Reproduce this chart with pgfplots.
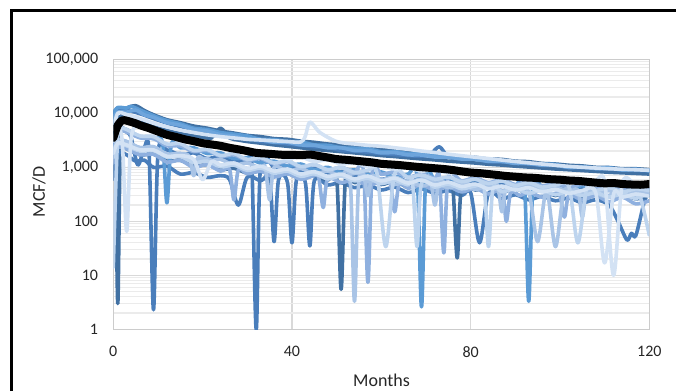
\documentclass[border=0pt]{standalone}
\usepackage{pgfplots}
\pgfplotsset{compat=1.18}
\usepackage{fontspec}
\setmainfont{Carlito}
\definecolor{c1}{RGB}{65,113,163}
\definecolor{c2}{RGB}{74,126,187}
\definecolor{c3}{RGB}{91,155,213}
\definecolor{c4}{RGB}{110,165,220}
\definecolor{c5}{RGB}{143,176,223}
\definecolor{c6}{RGB}{169,196,230}
\definecolor{c7}{RGB}{189,212,238}
\definecolor{c8}{RGB}{211,226,244}
\begin{document}
\begin{tikzpicture}[x=1pt,y=1pt]
\useasboundingbox (0,0) rectangle (676,391);
\begin{axis}[
  at={(113.3pt,61.7pt)}, anchor=south west,
  scale only axis, width=536pt, height=270pt,
  ymode=log, xmin=0, xmax=120, ymin=1, ymax=100000,
  xtick={0,40,80,120}, xticklabels={0,40,80,120},
  ytick={1,10,100,1000,10000,100000},
  yticklabels={1,10,100,{1,000},{10,000},{100,000}},
  minor ytick={2,3,4,5,6,7,8,9,20,30,40,50,60,70,80,90,200,300,400,500,600,700,800,900,2000,3000,4000,5000,6000,7000,8000,9000,20000,30000,40000,50000,60000,70000,80000,90000},
  xmajorgrids, ymajorgrids, yminorgrids,
  major grid style={black!15, line width=1.3pt},
  minor grid style={black!8, line width=1.3pt},
  axis line style={black!20, line width=1.3pt},
  major tick length=0pt, minor tick length=0pt,
  /pgf/number format/assume math mode=true,
  ticklabel style={font=\fontsize{16}{19}\selectfont, text=black!85},
  yticklabel style={anchor=east, inner sep=0pt, xshift=-15pt},
  xticklabel style={anchor=north, inner sep=0pt, yshift=-17pt},
  every axis plot/.append style={smooth, line width=3.6pt, line join=round, line cap=round},
  clip=true,
]
% A
\addplot[c1] coordinates {(0,11000)(0.5,1500)(1,3)(1.5,1500)(2,10500)(3,12500)(5,13800)(7,11200)(9,9400)(12,7600)(15,6700)(18,5800)(21,5300)(24,4700)(27,4300)(30,3900)(33,3700)(36,3400)(39,3300)(42,3050)(45,2900)(48,2700)(51,2600)(54,2400)(57,2300)(60,2150)(63,2100)(66,1950)(69,1880)(72,1750)(75,1700)(78,1580)(81,1530)(84,1420)(87,1400)(90,1300)(93,1270)(96,1180)(99,1150)(102,1090)(105,1060)(108,1000)(111,990)(114,940)(117,940)(120,900)};
% N
\addplot[c2] coordinates {(0,600)(1,1800)(3,1700)(5,1300)(7,1350)(9,1000)(12,1050)(15,750)(18,800)(21,650)(24,700)(26,600)(28,200)(30,660)(33,560)(35,620)(36,42)(37,590)(39,520)(40,40)(41,580)(43,520)(44,35)(45,560)(48,470)(51,520)(54,420)(57,470)(60,380)(63,430)(66,340)(69,400)(72,330)(75,370)(78,300)(80,340)(82,40)(84,330)(87,260)(90,310)(93,250)(96,290)(99,240)(102,270)(105,220)(108,250)(111,200)(113,100)(115,45)(116,60)(117,55)(119,250)(120,300)};
% R
\addplot[c1] coordinates {(0,1500)(1,2400)(3,2200)(6,1700)(9,1750)(12,1300)(15,1350)(18,1050)(21,1120)(24,900)(27,960)(30,780)(33,850)(36,700)(39,770)(42,620)(45,700)(48,580)(50,640)(51,5.5)(52,620)(54,520)(57,590)(60,480)(63,550)(66,430)(69,510)(72,410)(75,480)(76,460)(77,21)(78,460)(81,380)(84,430)(87,350)(90,400)(93,330)(96,380)(99,300)(102,360)(105,290)(108,340)(111,280)(114,320)(117,260)(120,300)};
% E
\addplot[c2] coordinates {(0,2500)(1,5000)(3,4500)(4,3500)(5.5,1100)(7,2400)(8,1900)(9,2.3)(10,1800)(12,2100)(15,1700)(18,1850)(21,1450)(24,1600)(27,1250)(30,1350)(31,1200)(32,1)(33,1150)(36,1000)(39,1050)(42,850)(45,950)(48,760)(51,830)(54,680)(57,750)(60,600)(63,680)(66,540)(69,620)(72,500)(75,570)(78,460)(81,520)(84,420)(87,480)(90,390)(93,450)(96,360)(99,420)(102,340)(105,400)(108,320)(111,380)(114,300)(117,360)(120,330)};
% H
\addplot[c1] coordinates {(0,6000)(1,8500)(3,8000)(6,6800)(9,5600)(12,4800)(15,4200)(18,3800)(21,3500)(22,3500)(24,5300)(26,3500)(28,3200)(30,3000)(33,2800)(36,2600)(39,2450)(42,2300)(45,2150)(48,2050)(51,1950)(54,1850)(57,1750)(60,1650)(63,1580)(66,1500)(69,1430)(72,1370)(75,1300)(78,1250)(81,1200)(84,1140)(87,1100)(90,1050)(93,1010)(96,970)(99,930)(102,900)(105,870)(108,840)(111,810)(114,790)(117,770)(120,750)};
% M
\addplot[c2] coordinates {(0,9500)(1,11800)(3,11500)(6,9800)(9,8000)(12,6600)(15,5700)(18,5000)(21,4500)(24,4000)(27,3650)(30,3500)(33,3000)(36,2900)(39,2700)(42,2550)(45,2400)(48,2350)(51,2050)(54,2000)(57,1900)(60,1800)(63,1720)(66,1650)(69,1600)(71,1750)(73,2400)(75,1550)(78,1450)(81,1420)(84,1280)(87,1260)(90,1200)(93,1150)(96,1100)(99,1100)(102,990)(105,990)(108,950)(111,930)(114,900)(117,880)(120,860)};
% D
\addplot[c3] coordinates {(0,10000)(1,12800)(3,12500)(4,13500)(6,11500)(9,9000)(12,7300)(15,6400)(18,5300)(21,5000)(24,4400)(27,4100)(30,3800)(33,3300)(36,3250)(39,3000)(42,2950)(45,2600)(48,2550)(51,2300)(54,2250)(57,2200)(60,1950)(63,1950)(66,1800)(69,1760)(72,1620)(75,1600)(78,1550)(81,1400)(84,1380)(87,1290)(90,1260)(93,1170)(96,1150)(99,1130)(102,1000)(105,1020)(108,960)(111,980)(114,890)(117,920)(120,860)};
% F
\addplot[c3] coordinates {(0,3500)(1,5500)(3,5000)(6,3700)(9,3400)(11,2900)(12,220)(13,2700)(15,2300)(18,2300)(21,1800)(24,1850)(27,1450)(30,1500)(33,1200)(36,1300)(39,1050)(42,1150)(45,900)(48,1000)(51,800)(54,900)(57,720)(60,820)(63,650)(66,750)(68,690)(69,2.6)(70,670)(72,580)(75,640)(78,520)(81,600)(84,480)(87,560)(90,450)(92,510)(93,3.3)(94,500)(96,430)(99,480)(102,400)(105,460)(108,380)(111,440)(114,360)(117,410)(120,390)};
% Q
\addplot[c4] coordinates {(0,8000)(1,10500)(3,10500)(5,11500)(7,9300)(9,8400)(12,6700)(15,6000)(18,5000)(21,4700)(24,4000)(27,3800)(30,3300)(33,3250)(36,2900)(39,2900)(42,2600)(45,2550)(48,2300)(51,2300)(54,2050)(57,2050)(60,1850)(63,1870)(66,1700)(69,1690)(72,1550)(75,1540)(78,1420)(81,1410)(84,1290)(87,1290)(90,1180)(93,1190)(96,1090)(99,1090)(102,1000)(105,1020)(108,950)(111,960)(114,900)(117,910)(120,880)};
% K
\addplot[c5] coordinates {(0,2500)(1,4800)(3,4500)(6,3500)(9,3400)(12,2500)(15,2500)(18,1950)(21,2050)(24,1600)(27,1700)(30,1350)(33,1450)(36,1150)(39,1280)(42,1000)(45,1120)(48,900)(51,1000)(54,820)(56,880)(57,7.4)(58,860)(60,740)(63,820)(66,660)(69,750)(72,620)(73,680)(74,26)(75,670)(78,560)(81,640)(84,520)(87,600)(90,480)(93,560)(96,450)(99,520)(102,420)(105,490)(108,400)(111,460)(114,380)(117,440)(120,410)};
% O
\addplot[c5] coordinates {(0,1200)(1,2300)(3,2200)(6,1700)(9,1750)(12,1250)(15,1350)(18,1000)(21,1120)(24,850)(26,930)(27,250)(28,900)(30,760)(33,850)(36,660)(39,760)(42,600)(45,700)(46,640)(47,180)(48,620)(51,520)(54,590)(57,470)(60,540)(62,500)(63,150)(64,490)(66,410)(69,470)(72,380)(75,440)(78,350)(81,410)(84,320)(87,370)(88,100)(89,355)(91,300)(93,350)(96,280)(99,330)(100,300)(101,120)(102,300)(105,250)(108,300)(111,230)(114,280)(117,210)(120,240)};
% J
\addplot[c6] coordinates {(0,2000)(1,3200)(3,3000)(6,2300)(9,2400)(12,1750)(15,1800)(18,1350)(21,1450)(24,1100)(27,1200)(30,950)(33,1030)(36,800)(39,880)(42,700)(45,780)(48,620)(51,690)(53,630)(54,3.3)(55,620)(57,540)(60,600)(63,480)(66,560)(69,450)(72,520)(75,420)(78,480)(81,390)(84,450)(87,360)(90,420)(93,350)(95,42)(97,380)(99,34)(101,370)(104,310)(107,360)(110,290)(113,340)(116,280)(120,310)};
% P
\addplot[c6] coordinates {(0,1800)(1,3100)(3,3000)(6,2300)(9,2400)(12,1750)(15,1800)(17,1600)(18,700)(19,1550)(21,1300)(24,1400)(27,1100)(30,1200)(33,950)(34,1030)(35,250)(36,1000)(39,850)(42,950)(45,750)(48,850)(51,680)(54,770)(56,700)(57,300)(58,690)(60,590)(63,660)(66,530)(69,610)(71,560)(72,200)(73,555)(75,480)(78,550)(81,440)(84,500)(86,470)(87,150)(88,460)(90,400)(93,460)(96,370)(99,430)(102,350)(104,380)(105,120)(106,375)(108,320)(111,370)(114,300)(117,350)(120,325)};
% I
\addplot[c8] coordinates {(0,5000)(1,10000)(3,9500)(6,8000)(9,6600)(12,5600)(15,4900)(18,4400)(21,4000)(24,3700)(27,3500)(30,3300)(33,3200)(36,3100)(39,3000)(42,2950)(43,3800)(44,6900)(46,4600)(48,3600)(50,3000)(52,2800)(54,2700)(57,2550)(60,2450)(63,2300)(66,2150)(69,2000)(72,1880)(75,1750)(78,1640)(81,1540)(84,1450)(87,1360)(90,1280)(93,1210)(96,1150)(99,1090)(102,1040)(105,1000)(108,970)(111,940)(114,920)(117,900)(120,880)};
% B
\addplot[c7] coordinates {(0,14)(1,4000)(2,5200)(3,5000)(6,3800)(9,3700)(12,2700)(15,2750)(18,2050)(21,2150)(24,1650)(27,1800)(30,1400)(33,1520)(36,1200)(39,1320)(42,1030)(45,1130)(48,900)(51,1000)(54,800)(57,880)(59,800)(61,34)(63,760)(66,650)(69,720)(72,600)(75,660)(78,540)(81,600)(84,500)(87,560)(90,460)(93,520)(96,430)(99,470)(102,440)(104,40)(106,420)(108,370)(111,420)(114,350)(117,400)(120,370)};
% L
\addplot[c7] coordinates {(0,1500)(1,2700)(3,2500)(6,2000)(9,2050)(12,1550)(15,1600)(18,1220)(21,1300)(24,1020)(27,1100)(30,880)(33,970)(36,780)(39,850)(42,680)(45,760)(48,610)(51,690)(54,560)(57,630)(60,500)(63,570)(66,470)(67,510)(68,34)(69,500)(72,430)(75,490)(78,400)(81,450)(83,410)(84,34)(85,405)(87,350)(90,400)(93,330)(96,380)(99,310)(102,360)(105,300)(108,340)(111,280)(114,320)(117,260)(118,280)(120,55)};
% G
\addplot[c8] coordinates {(0,1800)(1,2800)(3,2600)(6,2100)(9,2100)(12,1600)(15,1650)(18,1400)(20,590)(22,1280)(24,1100)(27,1200)(30,950)(33,1050)(36,850)(39,930)(42,750)(45,830)(48,680)(51,750)(54,610)(57,690)(60,560)(63,630)(66,510)(69,580)(72,470)(75,530)(78,440)(81,490)(84,400)(87,450)(90,380)(93,420)(96,350)(99,390)(102,330)(105,370)(108,340)(110,17)(112,320)(114,280)(117,320)(120,290)};
% C
\addplot[c8] coordinates {(0,3000)(1,5000)(2,3000)(3,65)(4,3500)(6,5800)(9,4300)(12,3900)(15,3000)(18,3000)(21,2400)(24,2450)(27,2000)(30,2050)(33,1650)(36,1750)(39,1450)(42,1550)(45,1280)(48,1380)(51,1150)(54,1220)(57,1030)(60,1100)(63,930)(66,990)(69,850)(72,910)(75,780)(78,830)(81,710)(84,770)(87,660)(90,720)(93,610)(96,660)(99,570)(102,620)(105,530)(108,570)(110,540)(112,10)(114,520)(117,470)(120,500)};
% average
\addplot[black, line width=8pt] coordinates {(0,3500)(1,6000)(2,7400)(3,7300)(4,6900)(5,6500)(6,6000)(8,5300)(10,4600)(12,4000)(14,3650)(16,3300)(18,3050)(20,2800)(22,2650)(24,2500)(26,2300)(28,2150)(30,2000)(32,1850)(34,1800)(36,1750)(38,1700)(40,1700)(42,1680)(44,1720)(46,1620)(48,1520)(50,1420)(52,1380)(54,1330)(56,1280)(58,1230)(60,1160)(62,1130)(64,1100)(66,1060)(68,1020)(70,990)(72,960)(74,930)(76,890)(78,840)(80,800)(82,780)(84,750)(86,720)(88,690)(90,670)(92,650)(94,640)(96,620)(98,600)(100,590)(102,570)(104,560)(106,540)(108,520)(110,505)(112,510)(114,490)(116,480)(118,475)(120,490)};
\end{axis}
\node[rotate=90, font=\fontsize{18}{21}\selectfont, text=black!85] at (39,199) {MCF/D};
\node[font=\fontsize{18}{21}\selectfont, text=black!85] at (381.5,11) {Months};
\draw[black, line width=3pt] (11.7,0) -- (11.7,380.7) -- (676,380.7);
\end{tikzpicture}
\end{document}
